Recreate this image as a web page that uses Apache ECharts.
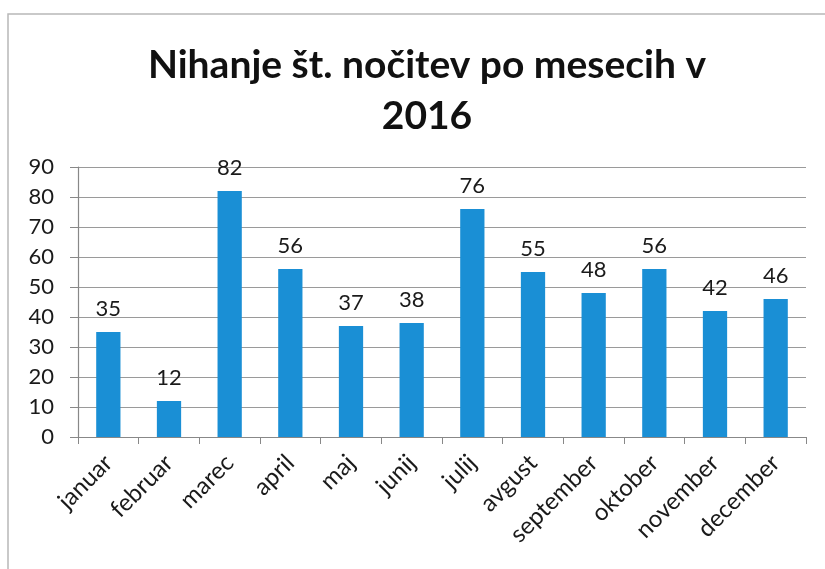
<!DOCTYPE html>
<html>
<head>
<meta charset="utf-8">
<script src="https://cdn.jsdelivr.net/npm/echarts@6/dist/echarts.min.js"></script>
<style>
  html, body { margin: 0; padding: 0; background: #fff; }
  #chart { width: 825px; height: 569px; }
</style>
</head>
<body>
<div id="chart"></div>
<script>
var months = ['januar', 'februar', 'marec', 'april', 'maj', 'junij', 'julij', 'avgust', 'september', 'oktober', 'november', 'december'];
var nocitve = [35, 12, 82, 56, 37, 38, 76, 55, 48, 56, 42, 46];
var titleText = 'Nihanje št. nočitev po mesecih v\n2016';

var chart = echarts.init(document.getElementById('chart'));
chart.setOption({
    backgroundColor: '#ffffff',
    animation: false,
    textStyle: { fontFamily: 'Lato, "Open Sans", sans-serif' },
    graphic: [{
        type: 'rect',
        shape: { x: 8, y: 14, width: 830, height: 600 },
        style: { fill: 'none', stroke: '#b8b8b8', lineWidth: 1.5 },
        silent: true
    }],
    title: {
        text: titleText,
        left: 422,
        top: 35,
        textAlign: 'center',
        textStyle: {
            fontFamily: 'Lato, sans-serif',
            fontWeight: 'bold',
            fontSize: 39,
            lineHeight: 51,
            color: '#111'
        }
    },
    grid: {
        left: 78,
        right: 19,
        top: 167,
        bottom: 132,
        containLabel: false
    },
    xAxis: {
        type: 'category',
        data: months,
        axisLine: { lineStyle: { color: '#888', width: 1.2 } },
        axisTick: { show: true, alignWithLabel: false, length: 7, lineStyle: { color: '#888' } },
        axisLabel: {
            rotate: 45,
            interval: 0,
            fontSize: 24,
            color: '#1a1a1a',
            margin: 22
        }
    },
    yAxis: {
        type: 'value',
        min: 0,
        max: 90,
        interval: 10,
        axisLine: { show: true, lineStyle: { color: '#888', width: 1.2 } },
        axisTick: { show: true, length: 8, inside: false, lineStyle: { color: '#888' } },
        splitLine: { lineStyle: { color: '#9a9a9a', width: 1 } },
        axisLabel: { fontSize: 22, color: '#1a1a1a', margin: 24 }
    },
    series: [{
        type: 'bar',
        data: nocitve,
        barWidth: '40%',
        itemStyle: { color: '#1a8fd5' },
        label: {
            show: true,
            position: 'top',
            distance: 12,
            fontSize: 22,
            color: '#1a1a1a'
        }
    }]
});
</script>
</body>
</html>
